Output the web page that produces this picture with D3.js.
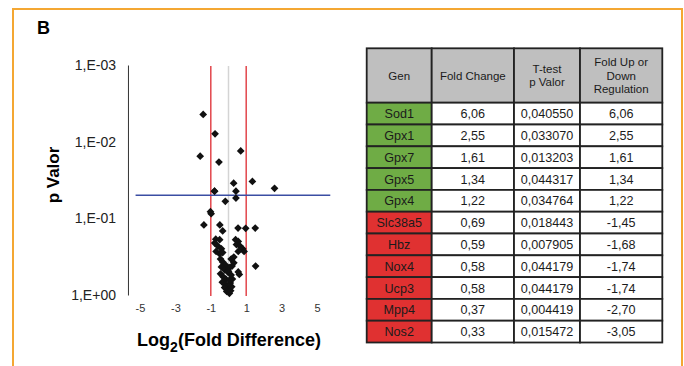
<!DOCTYPE html>
<html>
<head>
<meta charset="utf-8">
<script src="https://cdn.jsdelivr.net/npm/d3@7.9.0/dist/d3.min.js"></script>
<style>
  body { margin: 0; background: #fff; }
  svg { display: block; font-family: "Liberation Sans", Arial, sans-serif; }
</style>
</head>
<body>
<svg id="fig" width="684" height="366"></svg>
<script>
// volcano plot points (log2 fold difference, p value)
const pointLog2 = [
  2.60, 1.35, 0.69, 0.42, 0.29, -0.54, -0.76, -0.79, -0.79, -1.43, -1.60,
  0.42, -0.18, -1.02, -0.98, -1.39, -0.49, -0.33, 0.54, 0.97, 1.51, 1.53, 0.61,
  -0.72, -0.50, -0.78, -0.60, -0.40, -0.70, -0.50, -0.33, -0.45, -0.33, -0.15, -0.40,
  -0.22, -0.05, -0.45, -0.30, -0.15, -0.35, -0.20, -0.08, -0.22, 0.00, -0.10, 0.05,
  0.12, 0.18, 0.10, 0.22, 0.05, 0.15,
  0.40, 0.55, 0.45, 0.65, 0.80, 0.88, 0.55, 0.30, 0.15, 0.30, 0.20, 0.05, 0.55, 0.00
];
const pointP = [
  0.040550, 0.033070, 0.013203, 0.044317, 0.034764, 0.018443, 0.007905, 0.044179, 0.044179, 0.004419, 0.015472,
  0.0545, 0.060, 0.082, 0.087, 0.122, 0.122, 0.146, 0.134, 0.135, 0.134, 0.42, 0.54,
  0.187, 0.19, 0.21, 0.23, 0.25, 0.27, 0.29, 0.28, 0.34, 0.37, 0.41, 0.43,
  0.47, 0.50, 0.53, 0.58, 0.62, 0.68, 0.72, 0.78, 0.80, 0.86, 0.90, 0.95,
  0.88, 0.78, 0.70, 0.62, 0.64, 0.55,
  0.19, 0.20, 0.22, 0.23, 0.25, 0.27, 0.27, 0.32, 0.34, 0.38, 0.42, 0.44, 0.50, 0.49
];
const yTicks = [1e-3, 1e-2, 1e-1, 1];
const yTickLabels = ['1,E-03', '1,E-02', '1,E-01', '1,E+00'];
const xTicks = [-5, -3, -1, 1, 3, 5];
const foldCutoffs = [-1, 1];
const pCutoff = 0.05;

// table
const genes = ['Sod1', 'Gpx1', 'Gpx7', 'Gpx5', 'Gpx4', 'Slc38a5', 'Hbz', 'Nox4', 'Ucp3', 'Mpp4', 'Nos2'];
const foldChange = [6.06, 2.55, 1.61, 1.34, 1.22, 0.69, 0.59, 0.58, 0.58, 0.37, 0.33];
const tTestP = [0.040550, 0.033070, 0.013203, 0.044317, 0.034764, 0.018443, 0.007905, 0.044179, 0.044179, 0.004419, 0.015472];
const regulation = [6.06, 2.55, 1.61, 1.34, 1.22, -1.45, -1.68, -1.74, -1.74, -2.70, -3.05];
const headers = [['Gen'], ['Fold Change'], ['T-test', 'p Valor'], ['Fold Up or', 'Down', 'Regulation']];

const svg = d3.select('#fig');
const comma = d3.formatLocale({ decimal: ',', thousands: '.', grouping: [3], currency: ['', ''], minus: '-' });
const f2 = comma.format('.2f');
const f6 = comma.format('.6f');

// orange frame, open at the bottom
svg.append('path')
  .attr('d', 'M13,366 V9 H682 V366')
  .attr('fill', 'none')
  .attr('stroke', '#f4a733')
  .attr('stroke-width', 2);

svg.append('text')
  .attr('x', 37).attr('y', 34)
  .attr('font-size', 18).attr('font-weight', 'bold')
  .text('B');

// ---- volcano plot
const x = d3.scaleLinear().domain([-5, 5]).range([140, 317]);
const y = d3.scaleLog().domain([1, 1e-3]).range([295, 65]);
const axisAt = -5.68;

const yAxis = svg.append('g')
  .attr('transform', `translate(${x(axisAt)},0)`)
  .call(d3.axisLeft(y).tickValues(yTicks).tickFormat((d, i) => yTickLabels[i]).tickSize(0).tickPadding(12));
yAxis.select('.domain').attr('stroke', '#333');
yAxis.selectAll('text').attr('font-size', 14).attr('fill', '#222').attr('font-family', null);

const xAxis = svg.append('g')
  .attr('transform', 'translate(0,298)')
  .call(d3.axisBottom(x).tickValues(xTicks).tickFormat(d => String(d)).tickSize(0).tickPadding(6));
xAxis.select('.domain').remove();
xAxis.selectAll('text').attr('font-size', 11).attr('fill', '#333').attr('font-family', null);

svg.append('line')
  .attr('x1', x(0)).attr('x2', x(0))
  .attr('y1', y(1) + 1).attr('y2', y(1e-3) + 1)
  .attr('stroke', '#d4d4d4').attr('stroke-width', 1.5);

svg.selectAll('.cut')
  .data(foldCutoffs)
  .join('line')
  .attr('class', 'cut')
  .attr('x1', d => x(d)).attr('x2', d => x(d))
  .attr('y1', y(1) + 1).attr('y2', y(1e-3) + 1)
  .attr('stroke', '#e2464b').attr('stroke-width', 1.5);

svg.append('line')
  .attr('x1', x(-5.25)).attr('x2', x(5.75))
  .attr('y1', y(pCutoff)).attr('y2', y(pCutoff))
  .attr('stroke', '#3b4ea3').attr('stroke-width', 1.5);

const diamond = d3.symbol(d3.symbolSquare, 30);
svg.selectAll('.pt')
  .data(pointLog2)
  .join('path')
  .attr('class', 'pt')
  .attr('d', diamond)
  .attr('transform', (d, i) => `translate(${x(d)},${y(pointP[i])}) rotate(45)`)
  .attr('fill', '#111');

svg.append('text')
  .attr('transform', 'translate(58.5,175) rotate(-90)')
  .attr('text-anchor', 'middle')
  .attr('font-size', 17).attr('font-weight', 'bold')
  .text('p Valor');

const xl = svg.append('text')
  .attr('x', 229).attr('y', 346)
  .attr('text-anchor', 'middle')
  .attr('font-size', 18).attr('font-weight', 'bold');
xl.append('tspan').text('Log');
xl.append('tspan').attr('font-size', 14).attr('dy', 6).text('2');
xl.append('tspan').attr('dy', -6).text('(Fold Difference)');

// ---- table
const colEdges = [366.7, 431.7, 514, 580, 662.3];
const tableTop = 48.3, headH = 54.4, rowH = 21.8;
const rowY = d3.scaleBand().domain(d3.range(genes.length)).range([tableTop + headH, tableTop + headH + rowH * genes.length]);

const cells = [];
headers.forEach((h, c) => cells.push({ c, y: tableTop, h: headH, fill: '#bfbfbf', lines: h, fs: 11.5 }));
genes.forEach((g, r) => {
  const row = [g, f2(foldChange[r]), f6(tTestP[r]), f2(regulation[r])];
  row.forEach((t, c) => cells.push({
    c, y: rowY(r), h: rowY.bandwidth(),
    fill: c === 0 ? (regulation[r] > 0 ? '#6fac45' : '#e03131') : '#fff',
    lines: [t], fs: 12.6
  }));
});

const cg = svg.selectAll('.cell').data(cells).join('g').attr('class', 'cell');
cg.append('rect')
  .attr('x', d => colEdges[d.c]).attr('y', d => d.y)
  .attr('width', d => colEdges[d.c + 1] - colEdges[d.c]).attr('height', d => d.h)
  .attr('fill', d => d.fill)
  .attr('stroke', '#222').attr('stroke-width', 1.8);
cg.each(function (d) {
  const cx = (colEdges[d.c] + colEdges[d.c + 1]) / 2;
  const cy = d.y + d.h / 2;
  const n = d.lines.length;
  d3.select(this).selectAll('text')
    .data(d.lines)
    .join('text')
    .attr('x', cx)
    .attr('y', (t, i) => cy + (i - (n - 1) / 2) * 13.2)
    .attr('dy', '0.36em')
    .attr('text-anchor', 'middle')
    .attr('font-size', d.fs)
    .attr('fill', '#1b1b1b')
    .text(t => t);
});
</script>
</body>
</html>
